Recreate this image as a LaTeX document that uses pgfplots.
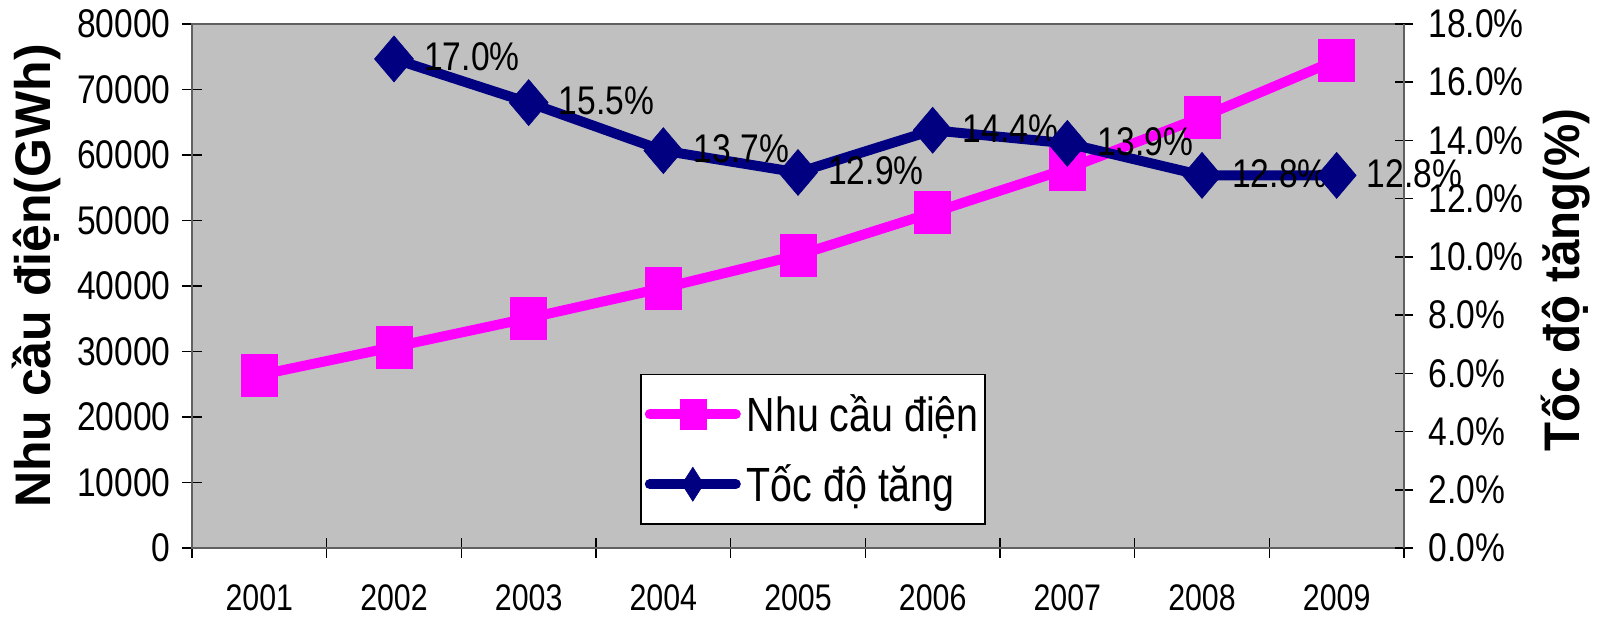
\documentclass[border=0pt]{standalone}
\usepackage{fontspec}
\setmainfont{Liberation Sans}[FakeStretch=0.84]
\newfontfamily\xfont{Liberation Sans}[FakeStretch=0.82]
\newfontfamily\legfont{Liberation Sans}[FakeStretch=0.82]
\newfontfamily\labfont{Liberation Sans}[FakeStretch=1.0]
\newfontfamily\rlabfont{Liberation Sans}[FakeStretch=0.95]
\usepackage{pgfplots}
\usepackage{pgfplotstable}
\pgfplotsset{compat=1.18}
\definecolor{bggray}{HTML}{C0C0C0}
\definecolor{navyc}{HTML}{000080}
\definecolor{mag}{HTML}{FF00FF}
\definecolor{framec}{HTML}{606060}

\pgfplotstableread{
x y
0 26400
1 30700
2 35100
3 39700
4 44700
5 51200
6 57900
7 65800
8 74500
}\demandtable

\pgfplotstableread{
x y lab
1 16.8 17.0\%
2 15.3 15.5\%
3 13.65 13.7\%
4 12.9 12.9\%
5 14.35 14.4\%
6 13.9 13.9\%
7 12.8 12.8\%
8 12.8 12.8\%
}\ratetable

\pgfplotsset{
  /pgf/number format/assume math mode=true,
  common/.style={
    at={(96pt,35pt)}, anchor=south west,
    scale only axis, width=606pt, height=262pt,
    xmin=-0.5, xmax=8.5,
    tick align=center,
    major tick length=9pt,
    tick style={black, line width=0.8pt},
    axis line style={draw=framec, line width=1.3pt},
    clip=false,
  },
}

\begin{document}
\begin{tikzpicture}
\path[use as bounding box] (0,0) rectangle (800pt,309pt);

\begin{axis}[
  common,
  ymin=0, ymax=80000,
  axis background/.style={fill=bggray},
  tick pos=left,
  xtick={-0.5,0.5,...,8.5},
  xticklabels=\empty,
  extra x ticks={0,1,...,8},
  extra x tick labels={2001,2002,2003,2004,2005,2006,2007,2008,2009},
  extra x tick style={major tick length=0pt,
     xticklabel style={font=\xfont\fontsize{18.5}{21}\selectfont, anchor=north, inner sep=0pt, yshift=-18pt}},
  major tick length=10pt,
  ytick={0,10000,...,80000},
  scaled y ticks=false,
  yticklabel={\pgfmathprintnumber[1000 sep={}]{\tick}},
  yticklabel style={font=\fontsize{20}{23}\selectfont, anchor=east, inner sep=0pt, xshift=-5.5pt},
  ylabel={Nhu cầu điện(GWh)},
  every axis y label/.style={at={(rel axis cs:0,0.5)}, xshift=-78pt, yshift=5pt, rotate=90, anchor=center,
     font=\labfont\bfseries\fontsize{25}{28}\selectfont},
  legend cell align=left,
  legend image code/.code={
    \draw[#1, line cap=round, mark repeat=2, mark phase=2] plot coordinates {(0pt,0pt) (21.5pt,0pt) (43pt,0pt)};
  },
  legend style={at={(0.3614,0.044)}, anchor=south west, xshift=5pt, draw=black, line width=0.8pt, fill=white,
     inner xsep=2pt, inner ysep=9pt, row sep=13pt, column sep=2pt,
     nodes={inner sep=1pt},
     font=\legfont\fontsize{24}{28}\selectfont},
]
\addplot[mag, line width=5pt, mark=square*, mark size=9pt,
   mark options={solid, line width=0.3pt, yscale=1.17}, forget plot] table[x=x, y=y] {\demandtable};
\addlegendimage{mag, line width=5pt, mark=square*, mark size=6.5pt, mark options={line width=0.3pt, line cap=butt, yscale=1.15}}
\addlegendentry{Nhu cầu điện}
\addlegendimage{navyc, line width=5pt, mark=diamond*, mark size=8.5pt, mark options={line width=0.3pt, line cap=butt, xscale=0.85}}
\addlegendentry{Tốc độ tăng}
\end{axis}

\begin{axis}[
  common,
  ymin=0, ymax=18,
  axis y line*=right,
  axis x line=none,
  ytick={0,2,...,18},
  yticklabel={\pgfmathprintnumber[fixed, fixed zerofill, precision=1]{\tick}\%},
  yticklabel style={font=\fontsize{20}{23}\selectfont, anchor=west, inner sep=0pt, xshift=7.5pt},
  ylabel={Tốc độ tăng(\%)},
  every axis y label/.style={at={(rel axis cs:1,0.5)}, xshift=81pt, yshift=3pt, rotate=90, anchor=center,
     font=\rlabfont\bfseries\fontsize{25}{28}\selectfont},
]
\addplot[navyc, line width=5pt, mark=diamond*, mark size=11.5pt,
   mark options={solid, line width=0.3pt, xscale=1.13},
   nodes near coords,
   every node near coord/.append style={anchor=west, inner sep=0pt, xshift=15pt, yshift=1pt,
      black, font=\fontsize{20}{23}\selectfont},
   point meta=explicit symbolic] table[x=x, y=y, meta=lab] {\ratetable};
\end{axis}
\end{tikzpicture}
\end{document}
